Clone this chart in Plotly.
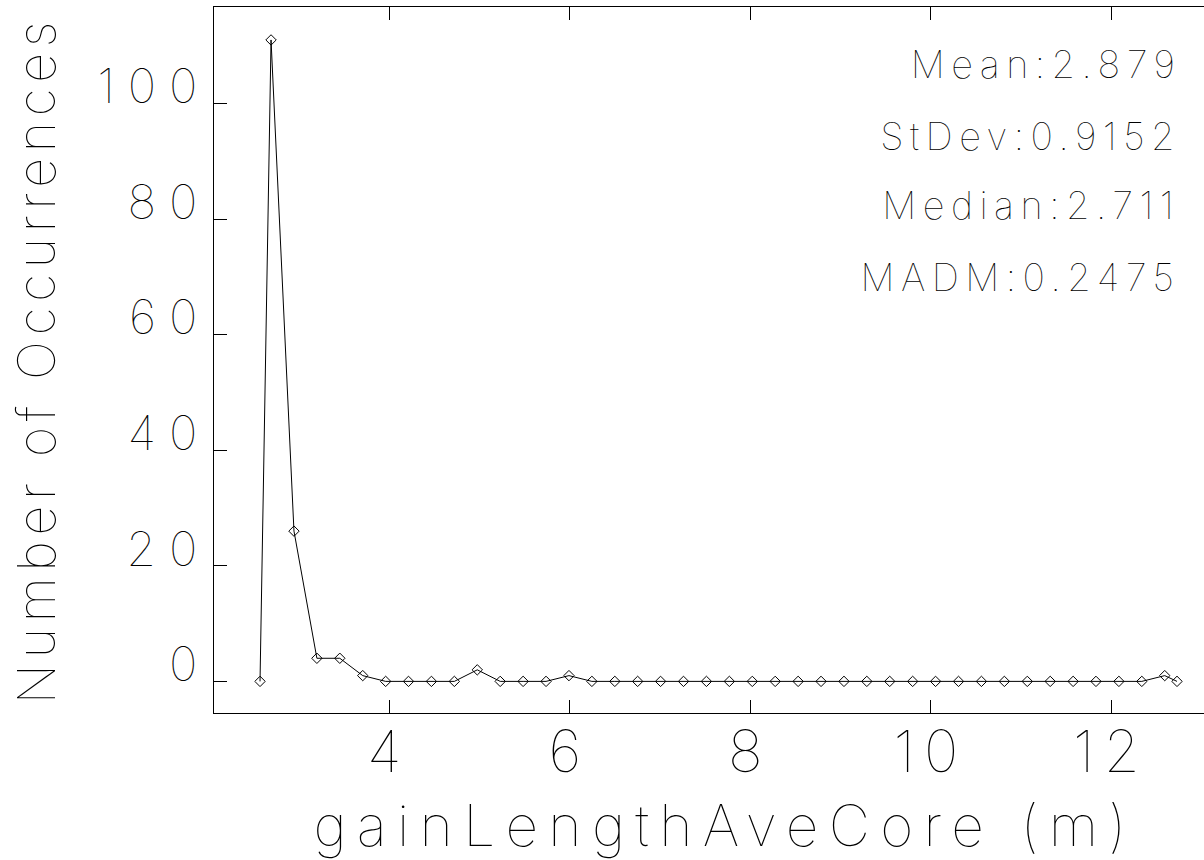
import plotly.graph_objects as go

# ---- data ----
x_vals = [2.571, 2.693, 2.947, 3.201, 3.455, 3.709, 3.963, 4.216, 4.470, 4.724,
          4.978, 5.232, 5.486, 5.740, 5.994, 6.248, 6.502, 6.755, 7.009, 7.263,
          7.517, 7.771, 8.025, 8.279, 8.533, 8.787, 9.041, 9.294, 9.548, 9.802,
          10.056, 10.310, 10.564, 10.818, 11.072, 11.326, 11.580, 11.833, 12.087,
          12.341, 12.595, 12.731]
counts = [0, 111, 26, 4, 4, 1, 0, 0, 0, 0,
          2, 0, 0, 0, 1, 0, 0, 0, 0, 0,
          0, 0, 0, 0, 0, 0, 0, 0, 0, 0,
          0, 0, 0, 0, 0, 0, 0, 0, 0,
          0, 1, 0]
x_ticks = [4, 6, 8, 10, 12]
y_ticks = [0, 20, 40, 60, 80, 100]
stats_labels = ["Mean:2.879", "StDev:0.9152", "Median:2.711", "MADM:0.2475"]
x_title = "gainLengthAveCore (m)"
y_title = "Number of Occurrences"

FONT = "Inter"
W = 100

fig = go.Figure()
fig.add_trace(go.Scatter(
    x=x_vals, y=counts, mode="lines+markers",
    line=dict(color="black", width=1),
    marker=dict(symbol="diamond-open", size=8, color="black", line=dict(width=1, color="black")),
    showlegend=False,
))

# annotation placement (paper coordinates)
stat_pos_x = [0.9460, 0.9394, 0.9394, 0.9427]
stat_pos_y = [0.919, 0.817, 0.720, 0.618]
for lbl, xx, yy in zip(stats_labels, stat_pos_x, stat_pos_y):
    fig.add_annotation(text=lbl, xref="paper", yref="paper", x=xx, y=yy,
                       xanchor="right", yanchor="middle", showarrow=False,
                       font=dict(family=FONT, size=38, color="black", weight=W))

fig.update_layout(
    width=1204, height=860,
    margin=dict(l=214, r=0, t=7, b=147, autoexpand=False),
    paper_bgcolor="white", plot_bgcolor="white",
    font=dict(family=FONT, color="black", weight=W),
    xaxis=dict(
        range=[2.061, 13.03], tickvals=x_ticks, ticktext=[str(v) for v in x_ticks],
        ticks="inside", ticklen=13, tickcolor="black", tickwidth=1,
        showline=True, linecolor="black", linewidth=1, mirror="ticks",
        showgrid=False, zeroline=False, automargin=False,
        tickfont=dict(family=FONT, size=58, color="black", weight=W),
        ticklabelstandoff=-12,
        title=dict(text=x_title, font=dict(family=FONT, size=57, color="black", weight=W), standoff=27),
    ),
    yaxis=dict(
        range=[-5.47, 116.7], tickvals=y_ticks, ticktext=[str(v) for v in y_ticks],
        ticks="inside", ticklen=13, tickcolor="black", tickwidth=1,
        showline=True, linecolor="black", linewidth=1, mirror=False,
        showgrid=False, zeroline=False, automargin=False,
        tickfont=dict(family=FONT, size=48, color="black", weight=W),
        ticklabelshift=-17, ticklabelstandoff=-7,
        title=dict(text=y_title, font=dict(family=FONT, size=52, color="black", weight=W), standoff=63),
    ),
)

post = """
document.body.style.margin='0';
var gd = document.getElementById('{plot_id}');
function ls(){
  gd.querySelectorAll('.xtick text').forEach(function(t){t.style.letterSpacing='0.16em';});
  gd.querySelectorAll('.ytick text').forEach(function(t){t.style.letterSpacing='0.27em';});
  gd.querySelectorAll('.g-xtitle text').forEach(function(t){t.style.letterSpacing='0.18em'; t.style.transform='translateX(16px)';});
  gd.querySelectorAll('.g-ytitle text').forEach(function(t){t.style.letterSpacing='0.11em';});
  gd.querySelectorAll('.annotation-text').forEach(function(t){t.style.letterSpacing='0.17em';});
}
ls();
gd.on('plotly_afterplot', ls);
"""
fig.write_html("out.html", post_script=post, config={"displayModeBar": False})
